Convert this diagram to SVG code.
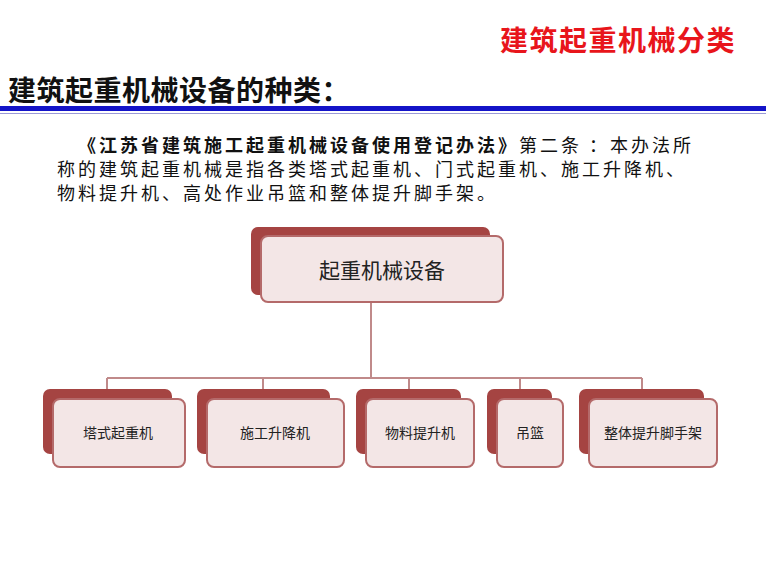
<svg xmlns="http://www.w3.org/2000/svg" width="766" height="567" viewBox="0 0 766 567">
<style>
.cjk{font-family:"Noto Sans CJK SC","Noto Sans",sans-serif}
.back{fill:#a54442}
.front{fill:#f3e6e6;stroke:#b46a6a;stroke-width:2}
.lbl{font-size:14px;fill:#222;text-anchor:middle}
.conn{stroke:#c08a8a;stroke-width:2;fill:none}
</style>
<rect width="766" height="567" fill="#fff"/>
<text class="cjk" x="736" y="51" font-size="28" font-weight="bold" fill="#e8151b" text-anchor="end" letter-spacing="1.5">建筑起重机械分类</text>
<text class="cjk" x="8" y="101" font-size="28" font-weight="bold" fill="#111" letter-spacing="0.5">建筑起重机械设备的种类：</text>
<rect x="0" y="106" width="766" height="5" fill="#1414c8"/>
<rect x="0" y="113" width="766" height="1" fill="#9a9ad8"/>
<g class="cjk" font-size="18" fill="#111" letter-spacing="3">
<text x="78" y="152"><tspan font-weight="bold">《江苏省建筑施工起重机械设备使用登记办法》</tspan>第二条 ：本办法所</text>
<text x="57" y="176">称的建筑起重机械是指各类塔式起重机、门式起重机、施工升降机、</text>
<text x="57" y="200">物料提升机、高处作业吊篮和整体提升脚手架。</text>
</g>
<g id="connectors" class="conn">
<path d="M371 302V378M107 378H642M107 378V389M263 378V389M409 378V389M520 378V389M642 378V389"/>
</g>
<g id="root"><rect class="back" x="251" y="227" width="239" height="68" rx="7"/><rect class="front" x="261" y="236" width="242" height="66" rx="7"/><text class="cjk" x="382" y="278" font-size="21" fill="#222" text-anchor="middle">起重机械设备</text></g>
<g id="n1"><rect class="back" x="43" y="389" width="129" height="65" rx="7"/><rect class="front" x="53" y="399" width="132" height="68" rx="7"/><text class="cjk lbl" x="118" y="438">塔式起重机</text></g>
<g id="n2"><rect class="back" x="197" y="389" width="133" height="65" rx="7"/><rect class="front" x="207" y="399" width="137" height="68" rx="7"/><text class="cjk lbl" x="275" y="438" font-size="13">施工升降机</text></g>
<g id="n3"><rect class="back" x="356" y="389" width="105" height="65" rx="7"/><rect class="front" x="366" y="399" width="108" height="68" rx="7"/><text class="cjk lbl" x="420" y="438">物料提升机</text></g>
<g id="n4"><rect class="back" x="487" y="389" width="65" height="65" rx="7"/><rect class="front" x="497" y="399" width="66" height="68" rx="7"/><text class="cjk lbl" x="530" y="438" font-size="13">吊篮</text></g>
<g id="n5"><rect class="back" x="579" y="389" width="125" height="65" rx="7"/><rect class="front" x="589" y="399" width="128" height="68" rx="7"/><text class="cjk lbl" x="653" y="438" font-size="13">整体提升脚手架</text></g>
</svg>
